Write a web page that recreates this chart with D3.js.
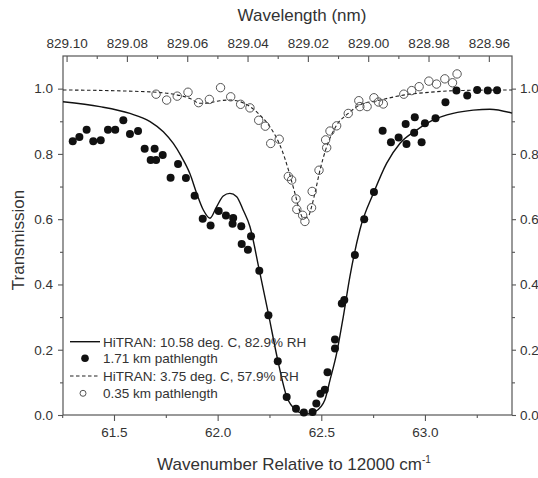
<!DOCTYPE html>
<html><head><meta charset="utf-8">
<script src="https://cdn.jsdelivr.net/npm/d3@7"></script>
<style>body{margin:0;background:#fff}text{font-family:"Liberation Sans",Arial,sans-serif;fill:#333}</style>
</head><body><svg id="c" width="538" height="478"></svg>
<script>
// 1.71 km pathlength measurements
const long_v = [61.301,61.333,61.368,61.400,61.436,61.471,61.506,61.545,61.577,61.616,61.648,61.696,61.677,61.703,61.735,61.809,61.773,61.847,61.889,61.928,61.966,62.005,62.040,62.075,62.072,62.114,62.161,62.116,62.146,62.201,62.245,62.290,62.333,62.378,62.416,62.458,62.476,62.496,62.517,62.530,62.566,62.566,62.599,62.611,62.662,62.707,62.754,62.796,62.836,62.873,62.907,62.911,62.951,62.948,62.984,63.000,63.051,63.099,63.152,63.204,63.252,63.303,63.348];
const long_t = [0.839,0.852,0.874,0.839,0.842,0.874,0.874,0.903,0.861,0.870,0.816,0.816,0.781,0.781,0.797,0.769,0.727,0.726,0.672,0.601,0.581,0.625,0.611,0.604,0.586,0.578,0.548,0.524,0.506,0.442,0.306,0.165,0.055,0.019,0.008,0.009,0.035,0.065,0.077,0.131,0.204,0.231,0.342,0.352,0.490,0.600,0.683,0.871,0.836,0.850,0.892,0.830,0.912,0.865,0.836,0.894,0.909,0.958,0.994,0.979,0.996,0.994,0.995];
// 0.35 km pathlength measurements
const short_v = [61.703,61.754,61.805,61.857,61.908,61.960,62.014,62.063,62.111,62.156,62.198,62.230,62.256,62.297,62.341,62.357,62.378,62.382,62.410,62.421,62.453,62.456,62.489,62.526,62.521,62.542,62.574,62.630,62.681,62.686,62.721,62.754,62.776,62.799,62.898,62.936,62.972,63.019,63.056,63.096,63.133,63.155];
const short_t = [0.983,0.965,0.977,0.989,0.957,0.967,1.003,0.975,0.952,0.941,0.903,0.885,0.832,0.845,0.731,0.720,0.662,0.630,0.612,0.593,0.635,0.685,0.750,0.819,0.843,0.870,0.886,0.924,0.963,0.945,0.945,0.972,0.959,0.953,0.983,0.994,1.006,1.023,1.014,1.030,1.018,1.045];
// HiTRAN 10.58 deg C, 82.9% RH
const warm_v = [61.254,61.432,61.577,61.674,61.738,61.786,61.826,61.866,61.899,61.931,61.963,61.995,62.027,62.059,62.092,62.123,62.156,62.199,62.245,62.291,62.334,62.378,62.426,62.474,62.517,62.542,62.574,62.606,62.638,62.686,62.754,62.815,62.879,62.960,63.040,63.136,63.233,63.313,63.420];
const warm_t = [0.960,0.945,0.924,0.899,0.868,0.832,0.791,0.740,0.679,0.628,0.603,0.638,0.671,0.679,0.669,0.628,0.577,0.450,0.310,0.165,0.055,0.015,0.003,0.012,0.046,0.107,0.189,0.301,0.424,0.567,0.683,0.771,0.832,0.873,0.904,0.924,0.934,0.937,0.925];
// HiTRAN 3.75 deg C, 57.9% RH
const cool_v = [61.254,61.674,61.795,61.866,61.915,61.963,62.011,62.059,62.108,62.156,62.204,62.252,62.297,62.325,62.346,62.373,62.397,62.413,62.437,62.453,62.469,62.494,62.526,62.574,62.630,62.686,62.783,62.895,63.024,63.152,63.420];
const cool_t = [0.996,0.990,0.982,0.970,0.955,0.957,0.963,0.965,0.960,0.945,0.919,0.883,0.832,0.785,0.741,0.679,0.623,0.603,0.608,0.638,0.679,0.751,0.822,0.888,0.924,0.950,0.965,0.980,0.989,0.994,0.996];

const xMajor = [61.5,62.0,62.5,63.0];
const xMinor = [61.25,61.75,62.25,62.75,63.25];
const yMajor = [0.0,0.2,0.4,0.6,0.8,1.0];
const yMinor = [0.1,0.3,0.5,0.7,0.9];
const wlMajor = [829.10,829.08,829.06,829.04,829.02,829.00,828.98,828.96];
const wlMinor = [829.09,829.07,829.05,829.03,829.01,828.99,828.97];
const legendLabels = ["HiTRAN: 10.58 deg. C, 82.9% RH","1.71 km pathlength","HiTRAN: 3.75 deg. C, 57.9% RH","0.35 km pathlength"];

const L=63,R=512,T=56,B=415;
const svg=d3.select("#c");
const x=d3.scaleLinear().domain([61.254,63.42]).range([L,R]);
const y=d3.scaleLinear().domain([0,1.1]).range([B,T]);
const wl=v=>1e7/(12000+v);
const xw=d3.scaleLinear().domain([wl(61.254),wl(63.42)]).range([L,R]);

const fs=13.5, axisCol="#555";
function styleAxis(g){g.select(".domain").remove();g.selectAll("line").attr("stroke",axisCol).attr("stroke-width",1.1);g.selectAll("text").attr("font-size",fs).attr("fill","#3a3a3a").style("font-family",'"Liberation Sans",Arial,sans-serif');}

// bottom
svg.append("g").attr("transform",`translate(0,${B})`).call(d3.axisBottom(x).tickValues(xMajor).tickSize(6).tickPadding(6).tickFormat(d3.format(".1f"))).call(styleAxis);
svg.append("g").attr("transform",`translate(0,${B})`).call(d3.axisBottom(x).tickValues(xMinor).tickSize(3).tickFormat("")).call(styleAxis);
// left
svg.append("g").attr("transform",`translate(${L},0)`).call(d3.axisLeft(y).tickValues(yMajor).tickSize(5).tickPadding(5).tickFormat(d3.format(".1f"))).call(styleAxis);
svg.append("g").attr("transform",`translate(${L},0)`).call(d3.axisLeft(y).tickValues(yMinor).tickSize(3).tickFormat("")).call(styleAxis);
// right
svg.append("g").attr("transform",`translate(${R},0)`).call(d3.axisRight(y).tickValues(yMajor).tickSize(4).tickPadding(4).tickFormat(d3.format(".1f"))).call(styleAxis);
svg.append("g").attr("transform",`translate(${R},0)`).call(d3.axisRight(y).tickValues(yMinor).tickSize(3).tickFormat("")).call(styleAxis);
// top (wavelength), ticks inward
const topG=svg.append("g").attr("transform",`translate(0,${T})`).call(d3.axisTop(xw).tickValues(wlMajor).tickSizeInner(-6).tickSizeOuter(0).tickPadding(0).tickFormat(d3.format(".2f"))).call(styleAxis);
topG.selectAll("text").attr("y",-8);
svg.append("g").attr("transform",`translate(0,${T})`).call(d3.axisTop(xw).tickValues(wlMinor).tickSizeInner(-3).tickSizeOuter(0).tickFormat("")).call(styleAxis);

svg.append("rect").attr("x",L).attr("y",T).attr("width",R-L).attr("height",B-T).attr("fill","none").attr("stroke",axisCol).attr("stroke-width",1.2);

// titles
svg.append("text").attr("x",302).attr("y",21).attr("text-anchor","middle").attr("font-size",17).text("Wavelength (nm)");
const bt=svg.append("text").attr("x",294).attr("y",470).attr("text-anchor","middle").attr("font-size",17);
bt.append("tspan").text("Wavenumber Relative to 12000 cm");
bt.append("tspan").attr("dy",-7).attr("font-size",10).text("-1");
svg.append("text").attr("transform","translate(24,240) rotate(-90)").attr("text-anchor","middle").attr("font-size",17).text("Transmission");

// lines
const warm=warm_v.map((v,i)=>[v,warm_t[i]]);
const cool=cool_v.map((v,i)=>[v,cool_t[i]]);
const line=d3.line().x(d=>x(d[0])).y(d=>y(d[1])).curve(d3.curveMonotoneX);
const plot=svg.append("g");
plot.append("path").attr("d",line(warm)).attr("fill","none").attr("stroke","#111").attr("stroke-width",1.4);
plot.append("path").attr("d",line(cool)).attr("fill","none").attr("stroke","#222").attr("stroke-width",1.1).attr("stroke-dasharray","3.5,2.5");

// points
plot.selectAll(".s").data(short_v.map((v,i)=>[v,short_t[i]])).join("circle").attr("cx",d=>x(d[0])).attr("cy",d=>y(d[1])).attr("r",4.2).attr("fill","none").attr("stroke","#555").attr("stroke-width",1);
plot.selectAll(".l").data(long_v.map((v,i)=>[v,long_t[i]])).join("circle").attr("cx",d=>x(d[0])).attr("cy",d=>y(d[1])).attr("r",4).attr("fill","#111");

// legend
const lg=svg.append("g");
const rows=[341.7,358.3,376,393.3];
lg.append("line").attr("x1",70).attr("x2",100).attr("y1",rows[0]).attr("y2",rows[0]).attr("stroke","#111").attr("stroke-width",1.4);
lg.append("circle").attr("cx",85).attr("cy",rows[1]).attr("r",3.8).attr("fill","#111");
lg.append("line").attr("x1",70).attr("x2",100).attr("y1",rows[2]).attr("y2",rows[2]).attr("stroke","#222").attr("stroke-width",1.1).attr("stroke-dasharray","3.5,2.5");
lg.append("circle").attr("cx",83).attr("cy",rows[3]).attr("r",3).attr("fill","none").attr("stroke","#555").attr("stroke-width",1);
lg.selectAll(".t").data(legendLabels).join("text").attr("x",103).attr("y",(d,i)=>rows[i]).attr("dy","0.36em").attr("font-size",fs).text(d=>d);
</script></body></html>
